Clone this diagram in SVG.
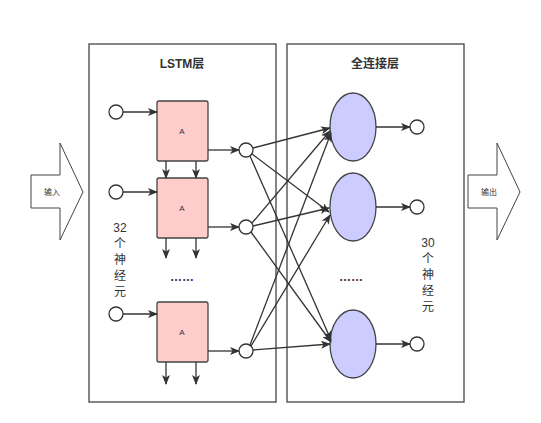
<svg xmlns="http://www.w3.org/2000/svg" width="541" height="423" viewBox="0 0 541 423">
<defs>
<marker id="ah" markerWidth="10" markerHeight="8" refX="9" refY="4" orient="auto" markerUnits="userSpaceOnUse">
<path d="M0,0 L10,4 L0,8 L2.5,4 Z" fill="#333"/>
</marker>
</defs>
<style>
.cont{fill:#fff;stroke:#444;stroke-width:1.3}
.cell{fill:#ffcccc;stroke:#444;stroke-width:1.3}
.neu{fill:#ccccff;stroke:#444;stroke-width:1.3}
.io{fill:#fff;stroke:#333;stroke-width:1.3}
.big{fill:#fff;stroke:#444;stroke-width:1}
.ln{stroke:#333;stroke-width:1.3;fill:none;marker-end:url(#ah)}
text{font-family:"Liberation Sans","Noto Sans CJK SC",sans-serif;fill:#333}
.ttl{font-size:12px;font-weight:bold;text-anchor:middle}
.a{font-size:8px;text-anchor:middle}
.sm{font-size:8px;text-anchor:middle}
.v{font-size:12px;text-anchor:middle}
.dots{font-size:12px;text-anchor:middle;font-weight:bold}
</style>
<rect width="541" height="423" fill="#fff"/>
<g id="lstm-layer">
<rect class="cont" x="89" y="44" width="187" height="358"/>
<text class="ttl" x="182" y="68">LSTM层</text>
</g>
<g id="fc-layer">
<rect class="cont" x="287" y="44" width="177" height="358"/>
<text class="ttl" x="375" y="68">全连接层</text>
</g>
<g id="input-arrow">
<path class="big" d="M31,175 H60 V143 L83,192 L60,240 V208 H31 Z"/>
<text class="sm" x="52" y="195">输入</text>
</g>
<g id="output-arrow">
<path class="big" d="M468,175 H497 V143 L520,192 L497,240 V208 H468 Z"/>
<text class="sm" x="489" y="195">输出</text>
</g>
<g id="in1"><circle class="io" cx="116" cy="112" r="7"/></g>
<g id="in2"><circle class="io" cx="116" cy="192" r="7"/></g>
<g id="in3"><circle class="io" cx="116" cy="314" r="7"/></g>
<g id="cell1"><rect class="cell" x="157" y="101" width="51" height="60" rx="2"/><text class="a" x="182" y="134">A</text></g>
<g id="cell2"><rect class="cell" x="157" y="178" width="51" height="60" rx="2"/><text class="a" x="182" y="211">A</text></g>
<g id="cell3"><rect class="cell" x="157" y="302" width="51" height="60" rx="2"/><text class="a" x="182" y="335">A</text></g>
<g id="h1"><circle class="io" cx="246" cy="150" r="7"/></g>
<g id="h2"><circle class="io" cx="246" cy="227" r="7"/></g>
<g id="h3"><circle class="io" cx="246" cy="351" r="7"/></g>
<g id="n1"><ellipse class="neu" cx="353" cy="127" rx="23" ry="34"/></g>
<g id="n2"><ellipse class="neu" cx="353" cy="207" rx="23" ry="34"/></g>
<g id="n3"><ellipse class="neu" cx="353" cy="344" rx="23" ry="34"/></g>
<g id="o1"><circle class="io" cx="417" cy="127" r="7"/></g>
<g id="o2"><circle class="io" cx="417" cy="207" r="7"/></g>
<g id="o3"><circle class="io" cx="417" cy="344" r="7"/></g>
<g id="labels">
<text class="dots" x="182" y="281">……</text>
<text class="dots" x="351" y="281">……</text>
<text class="v" x="120" y="232">32</text>
<text class="v" x="120" y="248">个</text>
<text class="v" x="120" y="264">神</text>
<text class="v" x="120" y="280">经</text>
<text class="v" x="120" y="296">元</text>
<text class="v" x="428" y="247">30</text>
<text class="v" x="428" y="263">个</text>
<text class="v" x="428" y="279">神</text>
<text class="v" x="428" y="295">经</text>
<text class="v" x="428" y="311">元</text>
</g>
<g id="connectors">
<line class="ln" x1="123" y1="112" x2="157" y2="112"/>
<line class="ln" x1="123" y1="192" x2="157" y2="192"/>
<line class="ln" x1="123" y1="314" x2="157" y2="314"/>
<line class="ln" x1="208" y1="150" x2="239" y2="150"/>
<line class="ln" x1="208" y1="227" x2="239" y2="227"/>
<line class="ln" x1="208" y1="351" x2="239" y2="351"/>
<line class="ln" x1="166" y1="161" x2="166" y2="178"/>
<line class="ln" x1="196" y1="161" x2="196" y2="178"/>
<line class="ln" x1="166" y1="238" x2="166" y2="258"/>
<line class="ln" x1="196" y1="238" x2="196" y2="258"/>
<line class="ln" x1="166" y1="362" x2="166" y2="384"/>
<line class="ln" x1="196" y1="362" x2="196" y2="384"/>
<line class="ln" x1="253" y1="148" x2="330" y2="128"/>
<line class="ln" x1="252" y1="154" x2="329" y2="212"/>
<line class="ln" x1="250" y1="156" x2="331" y2="340"/>
<line class="ln" x1="252" y1="223" x2="330" y2="131"/>
<line class="ln" x1="253" y1="226" x2="329" y2="208"/>
<line class="ln" x1="251" y1="232" x2="331" y2="342"/>
<line class="ln" x1="250" y1="345" x2="331" y2="133"/>
<line class="ln" x1="251" y1="346" x2="330" y2="215"/>
<line class="ln" x1="253" y1="350" x2="330" y2="344"/>
<line class="ln" x1="376" y1="127" x2="410" y2="127"/>
<line class="ln" x1="376" y1="207" x2="410" y2="207"/>
<line class="ln" x1="376" y1="344" x2="410" y2="344"/>
</g>
</svg>
